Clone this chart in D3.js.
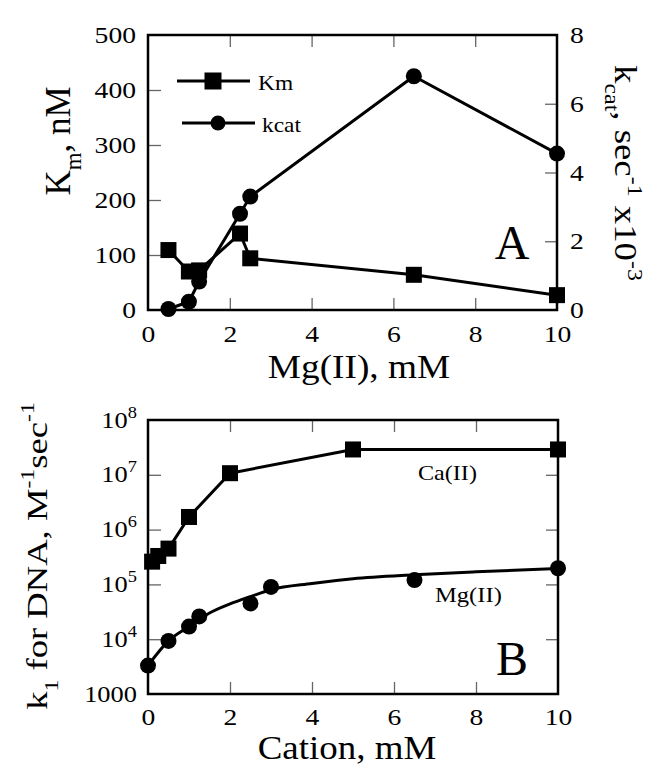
<!DOCTYPE html>
<html><head><meta charset="utf-8">
<script src="https://cdn.jsdelivr.net/npm/d3@7"></script>
<style>body{margin:0;background:#fff} svg text{font-family:"Liberation Serif","Times New Roman",Times,serif}</style>
</head><body>
<svg id="chart" width="666" height="777"></svg>
<script>
// ---------- DATA ----------
// Panel A
const kmX   = [0.5, 1.0, 1.25, 2.25, 2.5, 6.5, 10];
const kmY   = [109, 70, 72, 139, 94, 64, 27];
const kcatX = [0.5, 1.0, 1.25, 2.25, 2.5, 6.5, 10];
const kcatY = [0.03, 0.24, 0.83, 2.8, 3.3, 6.8, 4.55];
const xTicksA = [0, 2, 4, 6, 8, 10];
const yTicksA = [0, 100, 200, 300, 400, 500];
const y2TicksA = [0, 2, 4, 6, 8];
// Panel B
const caX = [0.1, 0.25, 0.5, 1, 2, 5, 10];
const caY = [2.6e5, 3.3e5, 4.5e5, 1.7e6, 1.07e7, 2.9e7, 2.9e7];
const mgX = [0, 0.5, 1, 1.25, 2.5, 3, 6.5, 10];
const mgY = [3300, 9300, 1.7e4, 2.6e4, 4.5e4, 9.0e4, 1.2e5, 1.97e5];
const fitX = [0, 0.5, 1, 1.5, 2, 2.5, 3, 4, 5, 6.5, 8, 10];
const fitY = [3300, 9300, 1.7e4, 3.0e4, 4.4e4, 6.0e4, 8.0e4, 1.04e5, 1.27e5, 1.5e5, 1.7e5, 1.95e5];
const xTicksB = [0, 2, 4, 6, 8, 10];
const yTicksB = [1e3, 1e4, 1e5, 1e6, 1e7, 1e8];

// ---------- SETUP ----------
const FONT = "Liberation Serif";
const SX = 1.15;
const svg = d3.select("#chart");
svg.append("rect").attr("width", 666).attr("height", 777).attr("fill", "#fff");

function richText(g, parts, size) {
  const t = g.append("text").attr("font-family", FONT).attr("font-size", size).attr("fill", "#000");
  let shift = 0;
  parts.forEach(p => {
    const target = p.sub ? size * (p.subShift || 0.3) : p.sup ? -size * 0.42 : 0;
    const ts = t.append("tspan").text(p.t).attr("dy", target - shift);
    if (p.sub || p.sup) ts.attr("font-size", size * 0.65);
    shift = target;
  });
  return t;
}

function innerTicks(g, axisGen) {
  g.call(axisGen);
  g.select(".domain").remove();
  g.selectAll(".tick line").attr("stroke", "#666").attr("stroke-width", 1.3);
  g.selectAll(".tick text").remove();
}

// ---------- PANEL A ----------
const xA = d3.scaleLinear().domain([0, 10]).range([148, 557]);
const yA = d3.scaleLinear().domain([0, 500]).range([310, 35]);
const yA2 = d3.scaleLinear().domain([0, 8]).range([310, 35]);

const gA = svg.append("g");
innerTicks(gA.append("g").attr("transform", "translate(0,310)"),
  d3.axisBottom(xA).tickValues([2, 4, 6, 8]).tickSize(-12));
innerTicks(gA.append("g").attr("transform", "translate(0,35)"),
  d3.axisTop(xA).tickValues([2, 4, 6, 8]).tickSize(-12));
innerTicks(gA.append("g").attr("transform", "translate(148,0)"),
  d3.axisLeft(yA).tickValues([100, 200, 300, 400]).tickSize(-13));
innerTicks(gA.append("g").attr("transform", "translate(557,0)"),
  d3.axisRight(yA2).tickValues([2, 4, 6]).tickSize(-12));

function labelAxis(g, axisGen, kind, yOff) {
  g.call(axisGen);
  g.attr("font-family", null);
  g.select(".domain").remove();
  g.selectAll(".tick line").remove();
  g.selectAll(".tick text").attr("font-family", FONT).attr("font-size", 24).attr("fill", "#000")
    .attr("transform", `scale(${SX},1)`);
  if (kind === "left") g.selectAll(".tick text").attr("x", -12 / SX);
  if (kind === "right") g.selectAll(".tick text").attr("x", 13 / SX);
  if (kind === "bottom") g.selectAll(".tick text").attr("y", yOff);
}
labelAxis(gA.append("g").attr("transform", "translate(0,310)"),
  d3.axisBottom(xA).tickValues(xTicksA).tickSize(0).tickFormat(d3.format("d")), "bottom", 15);
labelAxis(gA.append("g").attr("transform", "translate(148,0)"),
  d3.axisLeft(yA).tickValues(yTicksA).tickSize(0).tickFormat(d3.format("d")), "left");
labelAxis(gA.append("g").attr("transform", "translate(557,0)"),
  d3.axisRight(yA2).tickValues(y2TicksA).tickSize(0).tickFormat(d3.format("d")), "right");

gA.append("rect").attr("x", 148).attr("y", 35).attr("width", 557 - 148).attr("height", 310 - 35)
  .attr("fill", "none").attr("stroke", "#000").attr("stroke-width", 2.5);

const kmData = kmX.map((x, i) => [x, kmY[i]]);
const kcatData = kcatX.map((x, i) => [x, kcatY[i]]);
gA.append("path").datum(kmData).attr("fill", "none").attr("stroke", "#000").attr("stroke-width", 3)
  .attr("stroke-linejoin", "round")
  .attr("d", d3.line().x(d => xA(d[0])).y(d => yA(d[1])));
gA.append("path").datum(kcatData).attr("fill", "none").attr("stroke", "#000").attr("stroke-width", 3)
  .attr("stroke-linejoin", "round")
  .attr("d", d3.line().x(d => xA(d[0])).y(d => yA2(d[1])));
const SQ = 16;
gA.selectAll(".km").data(kmData).join("rect")
  .attr("x", d => xA(d[0]) - SQ / 2).attr("y", d => yA(d[1]) - SQ / 2)
  .attr("width", SQ).attr("height", SQ).attr("fill", "#000");
gA.selectAll(".kc").data(kcatData).join("circle")
  .attr("cx", d => xA(d[0])).attr("cy", d => yA2(d[1])).attr("r", 8).attr("fill", "#000");

// legend
gA.append("line").attr("x1", 177).attr("x2", 250).attr("y1", 81).attr("y2", 81).attr("stroke", "#000").attr("stroke-width", 3);
gA.append("rect").attr("x", 213 - 8.5).attr("y", 81 - 8.5).attr("width", 17).attr("height", 17).attr("fill", "#000");
gA.append("text").attr("transform", `translate(258,90) scale(1.17,1)`).attr("font-family", FONT).attr("font-size", 20).text("Km");
gA.append("line").attr("x1", 182).attr("x2", 255).attr("y1", 123).attr("y2", 123).attr("stroke", "#000").attr("stroke-width", 3);
gA.append("circle").attr("cx", 218).attr("cy", 123).attr("r", 7.5).attr("fill", "#000");
gA.append("text").attr("transform", `translate(262,131.5) scale(1.17,1)`).attr("font-family", FONT).attr("font-size", 20).text("kcat");

gA.append("text").attr("x", 512).attr("y", 259).attr("text-anchor", "middle")
  .attr("font-family", FONT).attr("font-size", 48).text("A");

richText(gA.append("g").attr("transform", "translate(359,378) scale(1.13,1)"), [{t: "Mg(II), mM"}], 33)
  .attr("text-anchor", "middle");
richText(gA.append("g").attr("transform", "translate(70,141) rotate(-90)"),
  [{t: "K"}, {t: "m", sub: true}, {t: ", nM"}], 35).attr("text-anchor", "middle");
richText(gA.append("g").attr("transform", "translate(615,173) rotate(90) scale(1.15,1)"),
  [{t: "k"}, {t: "cat", sub: true}, {t: ", sec"}, {t: "-1", sup: true}, {t: " x10"}, {t: "-3", sup: true}], 32)
  .attr("text-anchor", "middle");

// ---------- PANEL B ----------
const xB = d3.scaleLinear().domain([0, 10]).range([148, 558]);
const yB = d3.scaleLog().domain([1e3, 1e8]).range([694, 420]);
const gB = svg.append("g");

innerTicks(gB.append("g").attr("transform", "translate(0,694)"),
  d3.axisBottom(xB).tickValues([2, 4, 6, 8]).tickSize(-12));
innerTicks(gB.append("g").attr("transform", "translate(0,420)"),
  d3.axisTop(xB).tickValues([2, 4, 6, 8]).tickSize(-12));
innerTicks(gB.append("g").attr("transform", "translate(148,0)"),
  d3.axisLeft(yB).tickValues([1e4, 1e5, 1e6, 1e7]).tickSize(-13));
innerTicks(gB.append("g").attr("transform", "translate(558,0)"),
  d3.axisRight(yB).tickValues([1e4, 1e5, 1e6, 1e7]).tickSize(-12));

labelAxis(gB.append("g").attr("transform", "translate(0,694)"),
  d3.axisBottom(xB).tickValues(xTicksB).tickSize(0).tickFormat(d3.format("d")), "bottom", 14);

const gBL = gB.append("g").attr("transform", "translate(148,0)");
gBL.call(d3.axisLeft(yB).tickValues(yTicksB).tickSize(0).tickFormat(""));
gBL.attr("font-family", null);
gBL.select(".domain").remove();
gBL.selectAll(".tick line").remove();
gBL.selectAll(".tick").each(function (d) {
  const g = d3.select(this).append("g").attr("transform", `translate(-11,7) scale(${SX},1)`);
  const e = Math.round(Math.log10(d));
  const t = g.append("text").attr("text-anchor", "end").attr("font-family", FONT).attr("font-size", 23).attr("fill", "#000");
  if (e === 3) {
    t.text("1000");
  } else {
    t.append("tspan").text("10");
    t.append("tspan").text(String(e)).attr("font-size", 16).attr("dy", -10);
  }
});

gB.append("rect").attr("x", 148).attr("y", 420).attr("width", 558 - 148).attr("height", 694 - 420)
  .attr("fill", "none").attr("stroke", "#000").attr("stroke-width", 2.5);

const caData = caX.map((x, i) => [x, caY[i]]);
const mgData = mgX.map((x, i) => [x, mgY[i]]);
const fitData = fitX.map((x, i) => [x, fitY[i]]);
gB.append("path").datum(caData).attr("fill", "none").attr("stroke", "#000").attr("stroke-width", 3)
  .attr("stroke-linejoin", "round")
  .attr("d", d3.line().x(d => xB(d[0])).y(d => yB(d[1])));
gB.append("path").datum(fitData).attr("fill", "none").attr("stroke", "#000").attr("stroke-width", 3)
  .attr("d", d3.line().curve(d3.curveMonotoneX).x(d => xB(d[0])).y(d => yB(d[1])));
gB.selectAll(".ca").data(caData).join("rect")
  .attr("x", d => xB(d[0]) - SQ / 2).attr("y", d => yB(d[1]) - SQ / 2)
  .attr("width", SQ).attr("height", SQ).attr("fill", "#000");
gB.selectAll(".mg").data(mgData).join("circle")
  .attr("cx", d => xB(d[0])).attr("cy", d => yB(d[1])).attr("r", 8).attr("fill", "#000");

gB.append("text").attr("transform", "translate(418,480) scale(1.15,1)").attr("font-family", FONT).attr("font-size", 21).text("Ca(II)");
gB.append("text").attr("transform", "translate(435,602) scale(1.17,1)").attr("font-family", FONT).attr("font-size", 21).text("Mg(II)");
gB.append("text").attr("x", 512).attr("y", 675).attr("text-anchor", "middle")
  .attr("font-family", FONT).attr("font-size", 48).text("B");

richText(gB.append("g").attr("transform", "translate(347,759) scale(1.12,1)"), [{t: "Cation, mM"}], 33)
  .attr("text-anchor", "middle");
richText(gB.append("g").attr("transform", "translate(47,556) rotate(-90) scale(1.22,1)"),
  [{t: "k"}, {t: "1", sub: true, subShift: 0.35}, {t: " for DNA, M"}, {t: "-1", sup: true}, {t: "sec"}, {t: "-1", sup: true}], 30)
  .attr("text-anchor", "middle");
</script>
</body></html>
